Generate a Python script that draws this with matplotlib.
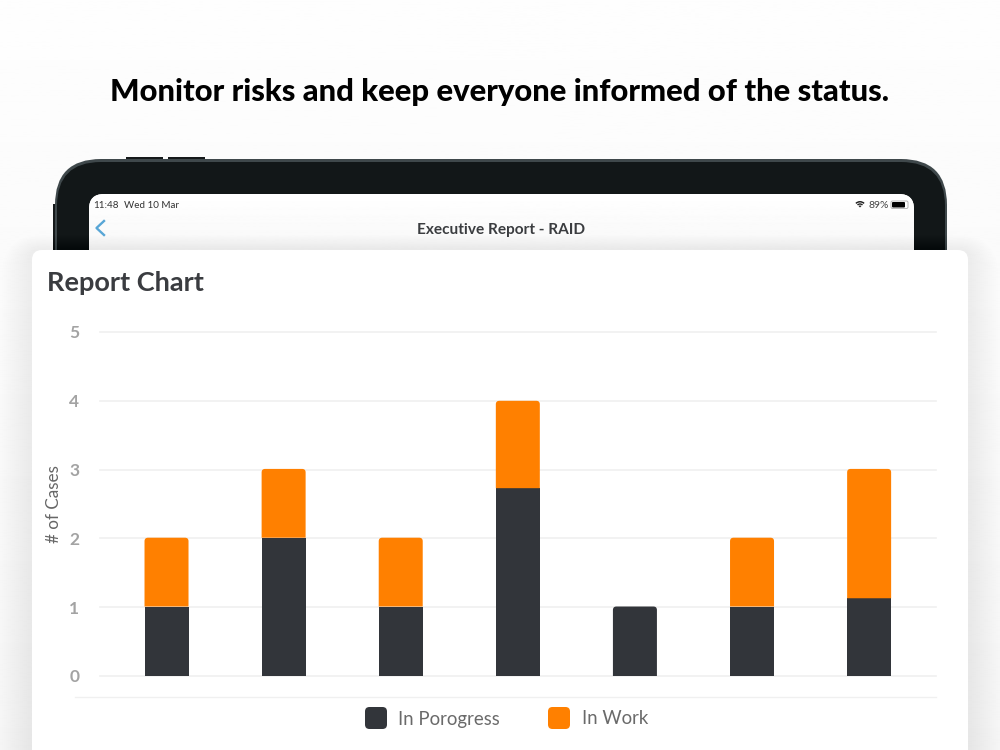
import numpy as np
import matplotlib
matplotlib.use('Agg')
import matplotlib.pyplot as plt
from matplotlib.patches import FancyBboxPatch, Rectangle, Wedge, PathPatch
from matplotlib.path import Path

plt.rcParams['font.family'] = ['Lato', 'DejaVu Sans']

# data
positions = [0, 1, 2, 3, 4, 5, 6]
in_progress = [1.01, 2.01, 1.01, 2.73, 1.01, 1.01, 1.13]
in_work = [1, 1, 1, 1.27, 0, 1, 1.88]
y_ticks = [0, 1, 2, 3, 4, 5]
series_names = ['In Porogress', 'In Work']

DARK = '#32353a'
ORANGE = '#ff8000'


def rbox(ax, x0, y0, x1, y1, r, color, zorder=1, alpha=1.0, ec='none', lw=0):
    p = FancyBboxPatch((x0 + r, y0 + r), x1 - x0 - 2 * r, y1 - y0 - 2 * r,
                       boxstyle=f'round,pad={r},rounding_size={r}',
                       fc=color, ec=ec, lw=lw, alpha=alpha, zorder=zorder)
    ax.add_patch(p)
    return p


def round_top(bar, ax, r_px=3.5):
    # clip the top corners of a bar so it looks like the app's bars
    x = bar.get_x()
    w = bar.get_width()
    b = bar.get_y()
    t = b + bar.get_height()
    rx = r_px / PX_X
    ry = r_px / PX_Y
    verts = [(x, b), (x, t - ry), (x, t), (x + rx, t), (x + w - rx, t),
             (x + w, t), (x + w, t - ry), (x + w, b), (x, b)]
    codes = [Path.MOVETO, Path.LINETO, Path.CURVE3, Path.CURVE3, Path.LINETO,
             Path.CURVE3, Path.CURVE3, Path.LINETO, Path.CLOSEPOLY]
    bar.set_visible(False)
    ax.add_patch(PathPatch(Path(verts, codes), fc=bar.get_facecolor(), ec='none', zorder=3))


fig = plt.figure(figsize=(10, 7.5), dpi=100)

# page, device and card are laid out in pixels
bg = fig.add_axes([0, 0, 1, 1])
bg.set_xlim(0, 1000)
bg.set_ylim(750, 0)
bg.axis('off')

grad = np.linspace(0.995, 0.96, 256).reshape(-1, 1)
bg.imshow(grad, extent=(0, 1000, 750, 0), cmap='gray', vmin=0, vmax=1, aspect='auto', zorder=0)

# buttons and bezel
bg.add_patch(Rectangle((126, 157), 37, 4, fc='#15191a', zorder=1))
bg.add_patch(Rectangle((168, 157), 37, 4, fc='#15191a', zorder=1))
bg.add_patch(Rectangle((53, 204), 4, 60, fc='#15191a', zorder=1))
rbox(bg, 55, 159, 947, 420, 46, '#3f484b', zorder=1)
rbox(bg, 57, 162, 945, 420, 44, '#121718', zorder=1.1)

# screen
screen = rbox(bg, 89, 194, 914, 420, 15, 'white', zorder=1.2)
im = bg.imshow(np.linspace(1.0, 0.97, 64).reshape(-1, 1), extent=(89, 914, 250, 194),
               cmap='gray', vmin=0, vmax=1, aspect='auto', zorder=1.3)
im.set_clip_path(screen)
bg.set_xlim(0, 1000)
bg.set_ylim(750, 0)

bg.text(93.5, 205, '11:48', fontsize=7.1, color='#333333', va='center', zorder=2)
bg.text(124, 205, 'Wed 10 Mar', fontsize=7.1, color='#333333', va='center', zorder=2)
bg.text(868.5, 205, '89%', fontsize=7.5, color='#444444', va='center', zorder=2)
for r, w in [(6.5, 1.5), (4.2, 1.4)]:
    bg.add_patch(Wedge((860, 207.5), r, 225, 315, width=w, fc='#222222', ec='none', zorder=2))
bg.add_patch(Wedge((860, 207.5), 2, 225, 315, fc='#222222', ec='none', zorder=2))
rbox(bg, 891, 201, 908, 208.5, 1.5, 'white', zorder=2, ec='#aaaaaa', lw=0.6)
rbox(bg, 892, 202, 905, 207.5, 1, 'black', zorder=2.1)
bg.plot([104, 96.5, 104], [221, 228, 235], color='#58a6d6', lw=1.7, zorder=2)
bg.text(501.5, 230, 'Executive Report - RAID', fontsize=11.1, fontweight='bold',
        color='#3b3d40', ha='center', va='center', zorder=2)

# card with soft shadow
for i in range(14):
    g = 30 - 2 * i
    rbox(bg, 32 - g, 250 - g * 0.5, 968 + g, 800, 10 + g, 'black', zorder=2.5, alpha=0.003)
rbox(bg, 32, 250, 968, 800, 10, 'white', zorder=3)

bg.text(500, 92, 'Monitor risks and keep everyone informed of the status.', fontsize=22.3,
        fontweight='black', color='black', ha='center', va='center', zorder=4)
bg.text(47, 283, 'Report Chart', fontsize=19.5, fontweight='bold', color='#3a3c40',
        va='center', zorder=4)

# separator and legend
bg.plot([75, 936], [696.5, 696.5], color='#f0f0f0', lw=1, zorder=4)
rbox(bg, 365, 707, 387, 729, 4.5, DARK, zorder=4)
rbox(bg, 548, 707, 570, 729, 4.5, ORANGE, zorder=4)
bg.text(398.5, 719, series_names[0], fontsize=13.4, color='#6a6a6a', va='center', zorder=4)
bg.text(581.5, 719, series_names[1], fontsize=13.4, color='#6a6a6a', va='center', zorder=4)

# the chart itself
left, right, top, bottom = 100, 936, 332, 676
ax = fig.add_axes([left / 1000, 1 - bottom / 750, (right - left) / 1000, (bottom - top) / 750])
ax.patch.set_alpha(0)
ax.set_xlim(-0.568, 6.571)
ax.set_ylim(0, 5)
PX_X = (right - left) / (6.571 + 0.568)
PX_Y = (bottom - top) / 5
bar_w = 44 / PX_X

dark_bars = ax.bar(positions, in_progress, width=bar_w, color=DARK, zorder=3)
orange_bars = ax.bar(positions, in_work, width=bar_w, bottom=in_progress, color=ORANGE, zorder=3)
for d, o in zip(dark_bars, orange_bars):
    round_top(o if o.get_height() > 0 else d, ax)

for s in ax.spines.values():
    s.set_visible(False)
ax.set_xticks([])
ax.set_yticks(y_ticks)
ax.tick_params(axis='y', length=0, pad=15, labelsize=12.5, labelcolor='#a3a3a3')
for lab in ax.get_yticklabels():
    lab.set_fontweight('bold')
ax.grid(axis='y', color='#f0f0f0', lw=1.2, zorder=0)
ax.set_axisbelow(True)
for line in ax.get_ygridlines():
    line.set_clip_on(False)
ax.set_ylabel('# of Cases', fontsize=12.3, color='#666666', labelpad=5)

fig.savefig('out.png', dpi=100)
